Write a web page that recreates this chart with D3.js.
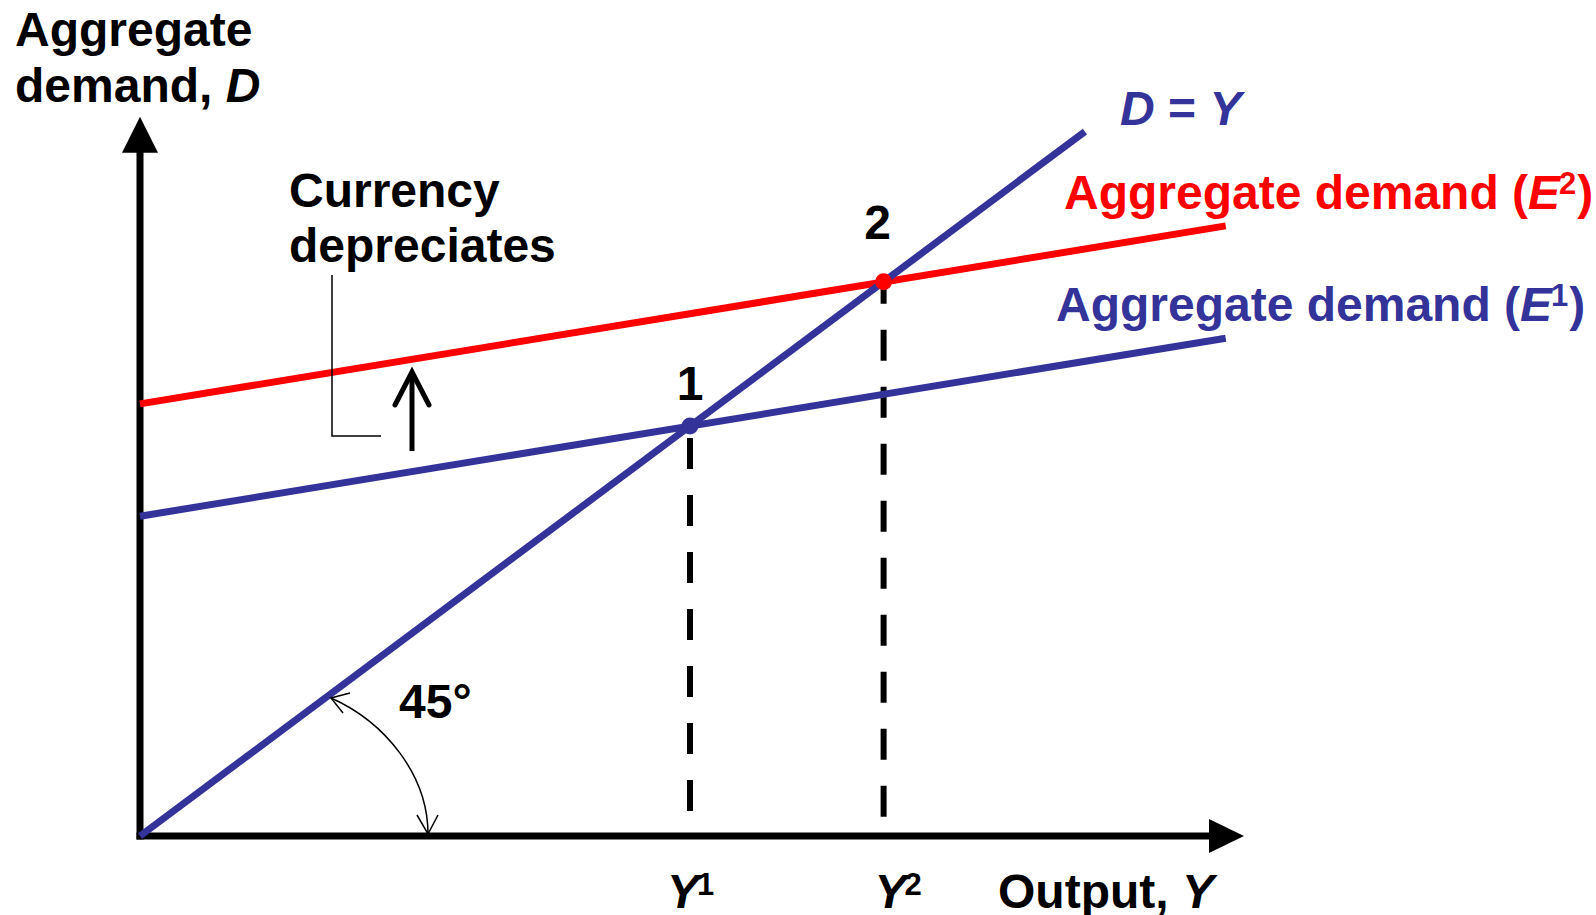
<!DOCTYPE html>
<html lang="en">
<head>
  <meta charset="UTF-8">
  <title>Aggregate demand and currency depreciation</title>
  <script src="https://d3js.org/d3.v7.min.js"></script>
  <style>
    body { margin: 0; background: #fff; }
    svg text { font-family: "Liberation Sans", Arial, sans-serif; font-weight: bold; }
  </style>
</head>
<body>
<script>
  // Data (in output / demand units, axis runs 0..100 on x)
  const xDomain = [0, 100];
  const yDomain = [0, 100];
  const yAxisTop = 87.7;          // where the vertical axis arrow ends
  const dEqualsY = [[0, 0], [85.9, 85.9]];           // 45 degree line
  const demandE1 = [[0, 39], [98.7, 60.7]];          // aggregate demand (E1)
  const demandE2 = [[0, 52.7], [98.7, 74.4]];        // aggregate demand (E2)
  const equilibria = [
    { label: "1", sub: "1", x: 50, y: 50, color: "#333399" },
    { label: "2", sub: "2", x: 67.6, y: 67.6, color: "#ff0000" }
  ];

  const width = 1596;
  const height = 915;
  const blue = "#333399";
  const red = "#ff0000";
  const fontSize = "48px";

  const svg = d3.select("body")
    .append("svg")
    .attr("width", width)
    .attr("height", height);

  // Scales
  const xScale = d3.scaleLinear().domain(xDomain).range([140, 1240]);
  const yScale = d3.scaleLinear().domain(yDomain).range([836, 16]);

  const line = d3.line()
    .x(d => xScale(d[0]))
    .y(d => yScale(d[1]));

  // Dashed drop lines from the equilibria to the x axis
  const dashOffsets = [45, 9];
  svg.selectAll(".drop")
    .data(equilibria)
    .enter().append("line")
    .attr("class", "drop")
    .attr("x1", d => xScale(d.x))
    .attr("x2", d => xScale(d.x))
    .attr("y1", d => yScale(d.y))
    .attr("y2", yScale(0))
    .attr("stroke", "#000")
    .attr("stroke-width", 6)
    .attr("stroke-dasharray", "31,26")
    .attr("stroke-dashoffset", (d, i) => dashOffsets[i]);

  // Axes
  svg.append("line")
    .attr("x1", xScale(0)).attr("x2", xScale(0))
    .attr("y1", yScale(0) + 3.5).attr("y2", yScale(yAxisTop) + 30)
    .attr("stroke", "#000").attr("stroke-width", 7);

  svg.append("line")
    .attr("x1", xScale(0) - 3.5).attr("x2", xScale(xDomain[1]) - 30)
    .attr("y1", yScale(0)).attr("y2", yScale(0))
    .attr("stroke", "#000").attr("stroke-width", 7);

  // Axis arrow heads
  const yTip = [xScale(0), yScale(yAxisTop)];
  svg.append("polygon")
    .attr("points", [[yTip[0], yTip[1]], [yTip[0] - 18, yTip[1] + 36], [yTip[0] + 18, yTip[1] + 36]].join(" "))
    .attr("fill", "#000");

  const xTip = [xScale(xDomain[1]) + 4, yScale(0)];
  svg.append("polygon")
    .attr("points", [[xTip[0], xTip[1]], [xTip[0] - 35, xTip[1] - 17], [xTip[0] - 35, xTip[1] + 17]].join(" "))
    .attr("fill", "#000");

  // Aggregate demand lines and the 45 degree line
  svg.append("path").datum(demandE1)
    .attr("d", line).attr("fill", "none")
    .attr("stroke", blue).attr("stroke-width", 7);

  svg.append("path").datum(demandE2)
    .attr("d", line).attr("fill", "none")
    .attr("stroke", red).attr("stroke-width", 7);

  svg.append("path").datum(dEqualsY)
    .attr("d", line).attr("fill", "none")
    .attr("stroke", blue).attr("stroke-width", 7);

  // Equilibrium points
  svg.selectAll(".eq")
    .data(equilibria)
    .enter().append("circle")
    .attr("class", "eq")
    .attr("cx", d => xScale(d.x))
    .attr("cy", d => yScale(d.y))
    .attr("r", 8.5)
    .attr("fill", d => d.color);

  // Point labels 1 and 2
  const labelDx = [0, -6];
  const labelDy = [-26, -43];
  svg.selectAll(".eq-label")
    .data(equilibria)
    .enter().append("text")
    .attr("class", "eq-label")
    .attr("x", (d, i) => xScale(d.x) + labelDx[i])
    .attr("y", (d, i) => yScale(d.y) + labelDy[i])
    .attr("text-anchor", "middle")
    .style("font-size", fontSize)
    .text(d => d.label);

  // Y1 / Y2 labels under the x axis
  const yLabelDx = [-23, -9];
  const yLabels = svg.selectAll(".y-label")
    .data(equilibria)
    .enter().append("text")
    .attr("class", "y-label")
    .attr("x", (d, i) => xScale(d.x) + yLabelDx[i])
    .attr("y", 908)
    .style("font-size", fontSize);
  yLabels.append("tspan").style("font-style", "italic").text("Y");
  yLabels.append("tspan")
    .attr("dx", -2).attr("dy", -13)
    .style("font-size", "31px")
    .text(d => d.sub);

  // Axis titles
  const yTitle = svg.append("text").style("font-size", fontSize);
  yTitle.append("tspan").attr("x", 15).attr("y", 46).text("Aggregate");
  const yTitle2 = yTitle.append("tspan").attr("x", 15).attr("y", 102);
  yTitle2.text("demand, ");
  yTitle.append("tspan").style("font-style", "italic").text("D");

  const xTitle = svg.append("text")
    .attr("x", 998).attr("y", 908)
    .style("font-size", fontSize);
  xTitle.append("tspan").text("Output, ");
  xTitle.append("tspan").style("font-style", "italic").text("Y");

  // Line labels
  const dyLabel = svg.append("text")
    .attr("x", 1120).attr("y", 125)
    .attr("fill", blue)
    .style("font-size", fontSize);
  dyLabel.append("tspan").style("font-style", "italic").text("D");
  dyLabel.append("tspan").text(" = ");
  dyLabel.append("tspan").style("font-style", "italic").text("Y");

  function demandLabel(x, y, color, sup) {
    const t = svg.append("text")
      .attr("x", x).attr("y", y)
      .attr("fill", color)
      .style("font-size", fontSize);
    t.append("tspan").text("Aggregate demand (");
    t.append("tspan").style("font-style", "italic").text("E");
    t.append("tspan").attr("dx", -1).attr("dy", -15).style("font-size", "31px").text(sup);
    t.append("tspan").attr("dx", 1).attr("dy", 15).text(")");
  }
  demandLabel(1064, 209, red, "2");
  demandLabel(1056, 321, blue, "1");

  // Currency depreciates note with bracket and arrow
  const note = svg.append("text").style("font-size", fontSize);
  note.append("tspan").attr("x", 289).attr("y", 207).text("Currency");
  note.append("tspan").attr("x", 289).attr("y", 262).text("depreciates");

  svg.append("polyline")
    .attr("points", "332,275 332,436 381,436")
    .attr("fill", "none")
    .attr("stroke", "#000")
    .attr("stroke-width", 1.5);

  svg.append("line")
    .attr("x1", 412).attr("x2", 412)
    .attr("y1", 451).attr("y2", 373)
    .attr("stroke", "#000").attr("stroke-width", 5);
  svg.append("polyline")
    .attr("points", "395,405 412,372 429,405")
    .attr("fill", "none")
    .attr("stroke", "#000")
    .attr("stroke-width", 5)
    .attr("stroke-linecap", "round")
    .attr("stroke-linejoin", "miter");

  // 45 degree arc with arrow heads
  svg.append("path")
    .attr("d", "M331,698 C385,722 428,775 428,834")
    .attr("fill", "none")
    .attr("stroke", "#000")
    .attr("stroke-width", 1.5);
  svg.append("polyline")
    .attr("points", "350,693 331,698 343,713")
    .attr("fill", "none").attr("stroke", "#000").attr("stroke-width", 1.5);
  svg.append("polyline")
    .attr("points", "417,815 428,834 438,815")
    .attr("fill", "none").attr("stroke", "#000").attr("stroke-width", 1.5);

  svg.append("text")
    .attr("x", 399).attr("y", 718)
    .style("font-size", fontSize)
    .text("45°");
</script>
</body>
</html>
